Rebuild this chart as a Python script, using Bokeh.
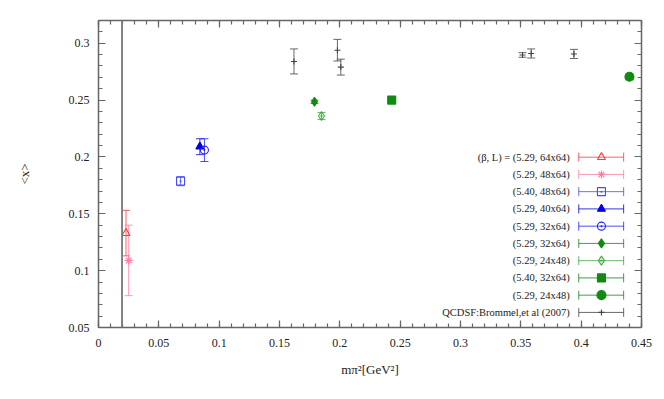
import numpy as np
from bokeh.plotting import figure
from bokeh.models import (ColumnDataSource, Whisker, TeeHead, Span, LinearAxis,
                          Range1d, FixedTicker)
from bokeh.core.properties import value
from bokeh.embed import file_html
from bokeh.resources import INLINE

# ---------------- data ----------------
labels = ["(β, L) = (5.29, 64x64)", "(5.29, 48x64)", "(5.40, 48x64)", "(5.29, 40x64)",
          "(5.29, 32x64)", "(5.29, 32x64)", "(5.29, 24x48)", "(5.40, 32x64)",
          "(5.29, 24x48)", "QCDSF:Brommel,et al (2007)"]

x_s1 = [0.0228];  y_s1 = [0.133];  e_s1 = [0.020]
x_s2 = [0.025];   y_s2 = [0.109];  e_s2 = [0.031]
x_s3 = [0.068];   y_s3 = [0.1787]; e_s3 = [0.004]
x_s4 = [0.084];   y_s4 = [0.209];  e_s4 = [0.007]
x_s5 = [0.0878];  y_s5 = [0.206];  e_s5 = [0.010]
x_s6 = [0.179];   y_s6 = [0.2485]; e_s6 = [0.0015]
x_s7 = [0.1848];  y_s7 = [0.236];  e_s7 = [0.003]
x_s8 = [0.243];   y_s8 = [0.250];  e_s8 = [0.0015]
x_s9 = [0.440];   y_s9 = [0.2705]; e_s9 = [0.0025]
x_q = [0.162, 0.198, 0.2008, 0.3514, 0.3586, 0.394]
y_q = [0.284, 0.2939, 0.279, 0.2897, 0.291, 0.2906]
e_q = [0.011, 0.0095, 0.007, 0.002, 0.004, 0.004]

phys_mpi2 = 0.0195

x_ticks = [0, 0.05, 0.1, 0.15, 0.2, 0.25, 0.3, 0.35, 0.4, 0.45]
y_ticks = [0.05, 0.1, 0.15, 0.2, 0.25, 0.3]

# ---------------- styles ----------------
series = [
    (x_s1, y_s1, e_s1, "#ff3838", "triangle", 8, False),
    (x_s2, y_s2, e_s2, "#ff7fa0", "asterisk", 8, False),
    (x_s3, y_s3, e_s3, "#4a4aff", "square_dot", 8, False),
    (x_s4, y_s4, e_s4, "#0000e0", "triangle", 8, True),
    (x_s5, y_s5, e_s5, "#2020ff", "circle_dot", 8, False),
    (x_s6, y_s6, e_s6, "#118a11", "diamond", 9, True),
    (x_s7, y_s7, e_s7, "#40a840", "diamond_dot", 9, False),
    (x_s8, y_s8, e_s8, "#118a11", "square", 8, True),
    (x_s9, y_s9, e_s9, "#118a11", "circle", 9, True),
    (x_q, y_q, e_q, "#444444", "cross", 6, False),
]

SERIF = "'Liberation Serif', 'Times New Roman', serif"

p = figure(width=656, height=391, output_backend="svg", toolbar_location=None,
           x_range=Range1d(0, 0.45), y_range=Range1d(0.05, 0.32),
           min_border_left=98, min_border_right=15, min_border_top=20,
           min_border_bottom=64)
p.outline_line_color = None
p.xgrid.visible = False
p.ygrid.visible = False
p.background_fill_color = "white"

AX_COLOR = "#666666"
minor_all = list(np.round(np.arange(0, 0.46, 0.01), 3))

def style_axis(ax, ticks, show_labels):
    ax.ticker = FixedTicker(ticks=ticks, minor_ticks=minor_all)
    ax.axis_line_color = AX_COLOR
    ax.axis_line_width = 1.5
    ax.major_tick_line_color = AX_COLOR
    ax.minor_tick_line_color = AX_COLOR
    ax.major_tick_line_width = 1.2
    ax.minor_tick_line_width = 1.2
    ax.major_tick_in = 7
    ax.major_tick_out = 0
    ax.minor_tick_in = 4
    ax.minor_tick_out = 0
    ax.major_label_text_font = SERIF
    ax.major_label_text_font_size = "12px"
    ax.major_label_text_color = "#222222"
    if not show_labels:
        ax.major_label_overrides = {t: "" for t in ticks}
        ax.major_label_standoff = 0

style_axis(p.xaxis[0], x_ticks, True)
style_axis(p.yaxis[0], y_ticks, True)
p.xaxis[0].major_label_standoff = 11
p.yaxis[0].major_label_standoff = 9
p.xaxis[0].major_label_overrides = {0: "0"}

p.xaxis.axis_label = "mπ²[GeV²]"
p.yaxis.axis_label = "<x>"
for ax in (p.xaxis[0], p.yaxis[0]):
    ax.axis_label_text_font = SERIF
    ax.axis_label_text_font_style = "normal"
    ax.axis_label_text_font_size = "13px"
    ax.axis_label_text_color = "#222222"
p.xaxis[0].axis_label_standoff = 12
p.yaxis[0].axis_label_standoff = 34

top = LinearAxis(); style_axis(top, x_ticks, False)
right = LinearAxis(); style_axis(right, y_ticks, False)
p.add_layout(top, "above")
p.add_layout(right, "right")

p.add_layout(Span(location=phys_mpi2, dimension="height", line_color="#777777",
                  line_width=1.8))

# ---------------- data marks ----------------
for xs, ys, es, col, mk, sz, filled in series:
    src = ColumnDataSource(dict(x=xs, y=ys,
                                lo=[a - b for a, b in zip(ys, es)],
                                hi=[a + b for a, b in zip(ys, es)]))
    w = Whisker(source=src, base="x", lower="lo", upper="hi", dimension="height",
                line_color=col, line_width=1, line_alpha=0.8,
                upper_head=TeeHead(size=8, line_color=col, line_alpha=0.8),
                lower_head=TeeHead(size=8, line_color=col, line_alpha=0.8))
    p.add_layout(w)
    p.scatter("x", "y", source=src, marker=mk, size=sz, line_color=col,
              fill_color=col if filled else None, line_width=1.1)

# ---------------- legend (label left, error-bar sample right) ----------------
LEG_LABEL_X = 0.3905
LEG_X0, LEG_X1, LEG_XM = 0.398, 0.4352, 0.4168
LEG_Y0, LEG_DY = 0.1998, 0.01517
for i, (lab, (xs, ys, es, col, mk, sz, filled)) in enumerate(zip(labels, series)):
    yy = LEG_Y0 - i * LEG_DY
    lsrc = ColumnDataSource(dict(y=[yy], x0=[LEG_X0], x1=[LEG_X1], xm=[LEG_XM],
                                 xl=[LEG_LABEL_X], t=[lab]))
    p.add_layout(Whisker(source=lsrc, base="y", lower="x0", upper="x1",
                         dimension="width", line_color=col, line_width=1,
                         line_alpha=0.8,
                         upper_head=TeeHead(size=9, line_color=col, line_alpha=0.8),
                         lower_head=TeeHead(size=9, line_color=col, line_alpha=0.8)))
    p.scatter("xm", "y", source=lsrc, marker=mk, size=sz, line_color=col,
              fill_color=col if filled else None, line_width=1.1)
    p.text("xl", "y", text="t", source=lsrc, text_align="right",
           text_baseline="middle", text_font=value(SERIF), text_font_size="10.5px",
           text_color="#222222")

open("out.html", "w").write(file_html(p, INLINE))
